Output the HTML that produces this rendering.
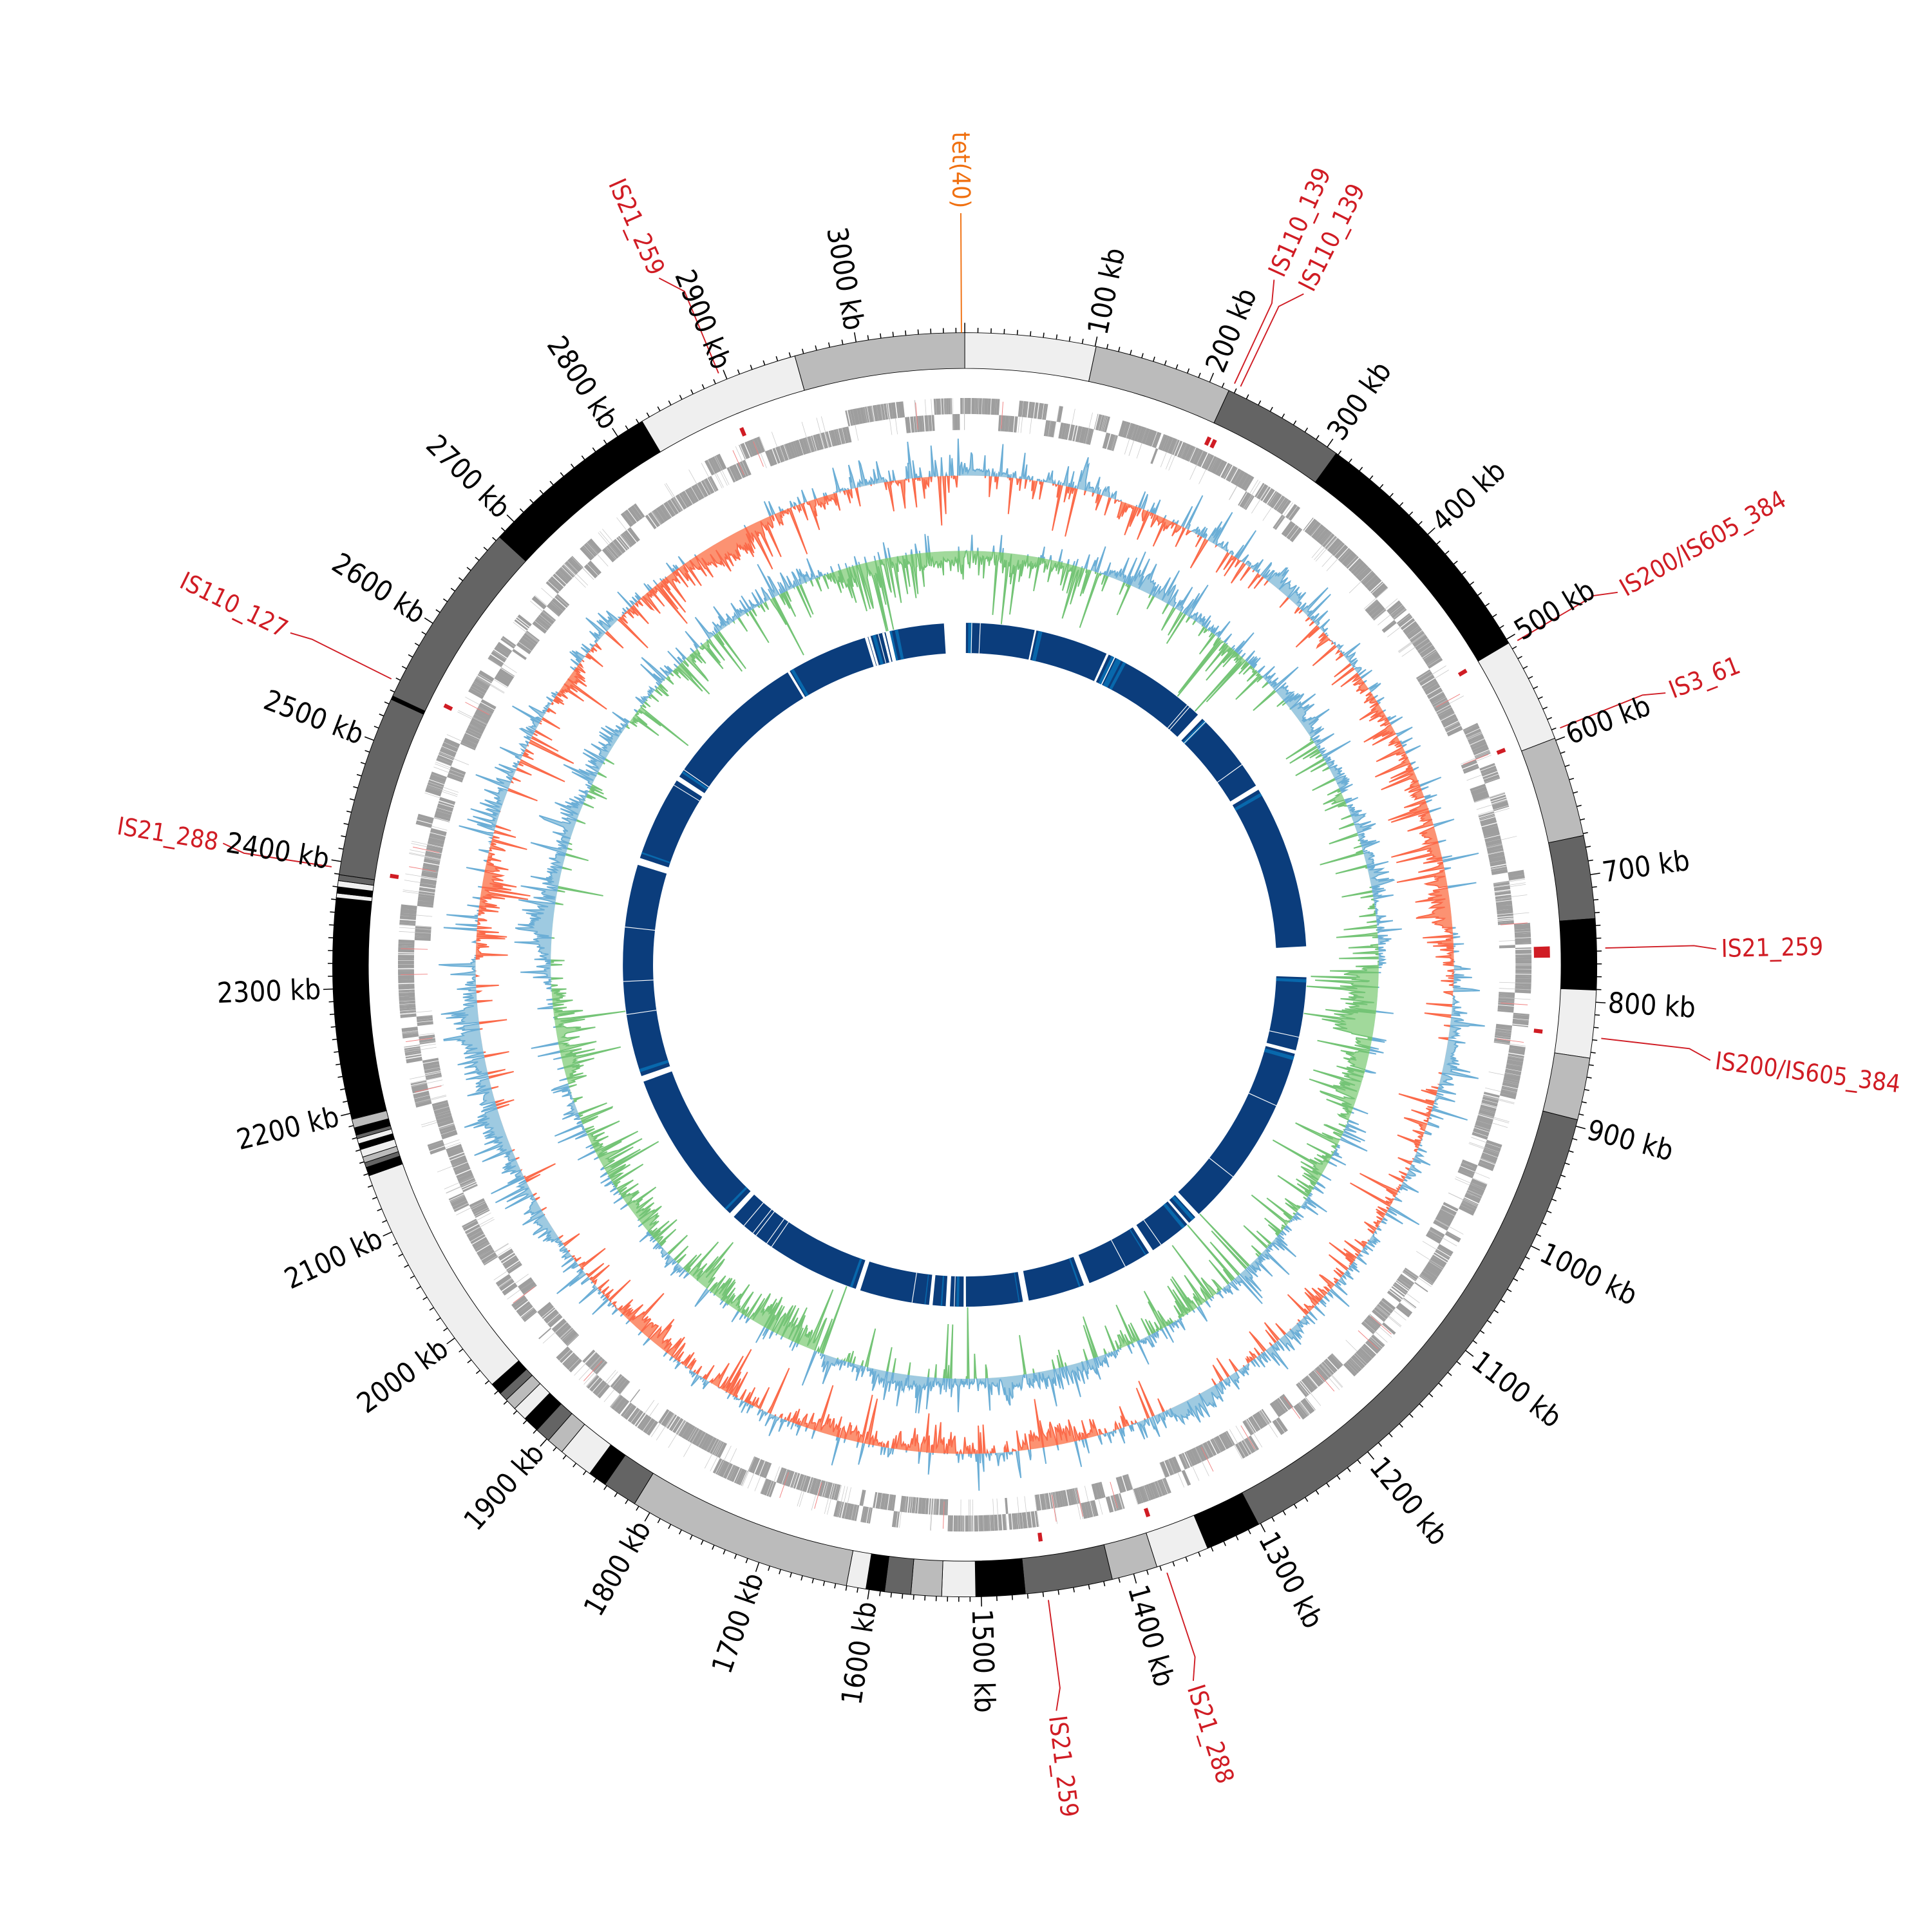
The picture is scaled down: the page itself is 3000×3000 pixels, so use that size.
<!DOCTYPE html>
<html><head><meta charset="utf-8">
<style>
html,body{margin:0;padding:0;background:#fff;}
svg{display:block;}
text{font-family:"DejaVu Sans Condensed","Liberation Sans Narrow","Liberation Sans",sans-serif;font-stretch:condensed;}
.tk{font-size:23px;fill:#000;}
.is{font-size:20px;fill:#d01c24;}
</style></head>
<body>
<svg id="s" xmlns="http://www.w3.org/2000/svg" width="3000" height="3000" viewBox="0 0 1568 1568">
<rect width="1568" height="1568" fill="#fff"/>
<g id="g"></g>
<g id="ticklabels">
<text class="tk">100 kb</text><text class="tk">200 kb</text><text class="tk">300 kb</text><text class="tk">400 kb</text><text class="tk">500 kb</text><text class="tk">600 kb</text><text class="tk">700 kb</text><text class="tk">800 kb</text><text class="tk">900 kb</text><text class="tk">1000 kb</text><text class="tk">1100 kb</text><text class="tk">1200 kb</text><text class="tk">1300 kb</text><text class="tk">1400 kb</text><text class="tk">1500 kb</text><text class="tk">1600 kb</text><text class="tk">1700 kb</text><text class="tk">1800 kb</text><text class="tk">1900 kb</text><text class="tk">2000 kb</text><text class="tk">2100 kb</text><text class="tk">2200 kb</text><text class="tk">2300 kb</text><text class="tk">2400 kb</text><text class="tk">2500 kb</text><text class="tk">2600 kb</text><text class="tk">2700 kb</text><text class="tk">2800 kb</text><text class="tk">2900 kb</text><text class="tk">3000 kb</text>
</g>
<g id="islabels">
<text class="is" style="fill:#f07010">tet(40)</text>
<text class="is">IS21_259</text>
<text class="is">IS110_139</text>
<text class="is">IS110_139</text>
<text class="is">IS200/IS605_384</text>
<text class="is">IS3_61</text>
<text class="is">IS21_259</text>
<text class="is">IS200/IS605_384</text>
<text class="is">IS21_288</text>
<text class="is">IS21_259</text>
<text class="is">IS21_288</text>
<text class="is">IS110_127</text>
</g>
</svg>
<script>
(function(){
var C=783,NS="http://www.w3.org/2000/svg",g=document.getElementById("g");
function P(r,a){var t=a*Math.PI/180;return [C+r*Math.sin(t),C-r*Math.cos(t)];}
function f(v){return v.toFixed(2);}
function el(n,at,parent){var e=document.createElementNS(NS,n);for(var k in at)e.setAttribute(k,at[k]);(parent||g).appendChild(e);return e;}
function sector(r0,r1,a0,a1){var la=(a1-a0)>180?1:0;var p1=P(r1,a0),p2=P(r1,a1),p3=P(r0,a1),p4=P(r0,a0);
return "M"+f(p1[0])+","+f(p1[1])+"A"+r1+","+r1+" 0 "+la+" 1 "+f(p2[0])+","+f(p2[1])+"L"+f(p3[0])+","+f(p3[1])+"A"+r0+","+r0+" 0 "+la+" 0 "+f(p4[0])+","+f(p4[1])+"Z";}
var seed=12345;function rnd(){seed|=0;seed=seed+0x6D2B79F5|0;var t=Math.imul(seed^seed>>>15,1|seed);t=t+Math.imul(t^t>>>7,61|t)^t;return((t^t>>>14)>>>0)/4294967296;}
function nrm(){return Math.sqrt(-2*Math.log(rnd()+1e-9))*Math.cos(2*Math.PI*rnd());}
var tab=[[0,0],[100,11.9],[200,22.8],[300,35],[400,47.1],[500,59],[600,69.2],[700,81.8],[800,93.4],[900,104.8],[1000,116.4],[1100,127.6],[1200,140.4],[1300,152.1],[1400,164.5],[1500,178.5],[1600,188.7],[1700,199],[1800,209.9],[1900,221.4],[2000,233.8],[2100,245],[2200,256.4],[2300,267.8],[2400,279.4],[2500,290.8],[2600,302.7],[2700,314.5],[2800,326.7],[2900,337.9],[3000,350.1],[3087,360]];
function k2a(k){for(var i=1;i<tab.length;i++){if(k<=tab[i][0]){var a=tab[i-1],b=tab[i];return a[1]+(b[1]-a[1])*(k-a[0])/(b[0]-a[0]);}}return 360;}
var L="#efefef",B="#bbbbbb",D="#646464",K="#000000";
var segs=[[0,12,L],[12,24.7,B],[24.7,36,D],[36,59.4,K],[59.4,69,L],[69,78.2,B],[78.2,85.8,D],[85.8,92.3,K],[92.3,98.5,L],[98.5,104.2,B],[104.2,152.3,D],[152.3,157.4,K],[157.4,162.3,L],[162.3,166.5,B],[166.5,174.5,D],[174.5,179,K],[179,182.1,L],[182.1,184.9,B],[184.9,187.3,D],[187.3,189,K],[189,190.8,L],[190.8,211.5,B],[211.5,214.7,D],[214.7,216.4,K],[216.4,219.6,L],[219.6,221.2,B],[221.2,222.6,D],[222.6,224.1,K],[224.1,225.4,L],[225.4,226.5,B],[226.5,227.3,D],[227.3,228.4,K],[228.4,250.5,L]];
var cols=[K,D,B,L,K,L,D,K,B,L,K,D,L];var a=250.5,ci=0;
while(a<255.9){var w=0.3+rnd()*0.5;segs.push([a,Math.min(a+w,255.9),cols[ci++%cols.length]]);a+=w;}
segs.push([255.9,276.1,K]);a=276.1;ci=3;
while(a<278.2){var w=0.25+rnd()*0.35;segs.push([a,Math.min(a+w,278.2),cols[ci++%cols.length]]);a+=w;}
segs=segs.concat([[278.2,312.6,D],[312.6,329.3,K],[329.3,344.4,L],[344.4,360,B]]);
segs.forEach(function(s){el("path",{d:sector(484,513,s[0],s[1]),fill:s[2],stroke:"#000","stroke-width":0.5});});
el("path",{d:sector(484,513,294.8,295.2),fill:"#000"});
var td="";for(var k=0;k<=3080;k+=10){var an=k2a(k),mj=(k%100==0),p1=P(513,an),p2=P(mj?521:517,an);td+="M"+f(p1[0])+","+f(p1[1])+"L"+f(p2[0])+","+f(p2[1]);}
el("path",{d:td,stroke:"#000","stroke-width":0.8,fill:"none"});
var tks=document.querySelectorAll("#ticklabels text");
for(var i=0;i<tks.length;i++){var an=k2a((i+1)*100),p=P(523,an),t=tks[i];
t.setAttribute("x",f(p[0]));t.setAttribute("y",f(p[1]));t.setAttribute("dominant-baseline","central");
if(an<180){t.setAttribute("text-anchor","start");t.setAttribute("transform","rotate("+f(an-90)+" "+f(p[0])+" "+f(p[1])+")");}
else{t.setAttribute("text-anchor","end");t.setAttribute("transform","rotate("+f(an+90)+" "+f(p[0])+" "+f(p[1])+")");}}
var gd1="",gd2="";a=0;var lane=0,run=0;
while(a<360){if(run<=0){lane=rnd()<0.5?0:1;run=1+Math.floor(rnd()*7);}run--;
var w=0.06+rnd()*0.4,gap=rnd()<0.6?0.005:rnd()*0.1;var a1=Math.min(a+w,360);
var d=lane?sector(447,460,a,a1):sector(434,447,a,a1);
if(lane)gd1+=d;else gd2+=d;a=a1+gap;}
el("path",{d:gd1,fill:"#9e9e9e"});el("path",{d:gd2,fill:"#9e9e9e"});
var ld="";for(var i=0;i<500;i++){var an=rnd()*360;var p1=P(434+(rnd()<0.5?0:13),an),p2=P(447+(rnd()<0.5?0:13),an);ld+="M"+f(p1[0])+","+f(p1[1])+"L"+f(p2[0])+","+f(p2[1]);}
el("path",{d:ld,stroke:"#c8c8c8","stroke-width":0.4,fill:"none"});
var rd="";for(var i=0;i<30;i++){var an=rnd()*360;var p1=P(436,an),p2=P(458,an);rd+="M"+f(p1[0])+","+f(p1[1])+"L"+f(p2[0])+","+f(p2[1]);}
el("path",{d:rd,stroke:"#f08080","stroke-width":0.5,fill:"none"});
function makeTrack(base,up,dn,bias,posFill,posStroke,negFill,negStroke,id){
var n=3000,vals=[],s=0,ph=[rnd()*6,rnd()*6,rnd()*6,rnd()*6];
for(var i=0;i<n;i++){var an=i*360/n,t=an*Math.PI/180;
s=s*0.97+nrm()*0.1;
var sm=0.35*Math.sin(3*t+ph[0])+0.3*Math.sin(7*t+ph[1])+0.25*Math.sin(13*t+ph[2])+0.2*Math.sin(29*t+ph[3])+s*0.4+bias;
var e=nrm();
var v=sm*0.38+e*Math.abs(e)*0.12+(rnd()<0.08?nrm()*0.4:0);
vals.push(v>0?Math.min(v*up,up):Math.max(v*dn,-dn));}
var d="";for(var i=0;i<=n;i++){var an=(i%n)*360/n,p=P(base+vals[i%n],an);d+=(i?"L":"M")+f(p[0])+","+f(p[1]);}
var c1=P(base,0),c2=P(base,180);
var circ="M"+f(c1[0])+","+f(c1[1])+"A"+base+","+base+" 0 1 1 "+f(c2[0])+","+f(c2[1])+"A"+base+","+base+" 0 1 1 "+f(c1[0])+","+f(c1[1])+"Z";
var defs=el("defs",{});
var cpO=el("clipPath",{id:id+"o"},defs);el("path",{d:"M-1000,-1000H3000V3000H-1000Z"+circ,"clip-rule":"evenodd"},cpO);
var cpI=el("clipPath",{id:id+"i"},defs);el("circle",{cx:C,cy:C,r:base},cpI);
el("path",{d:d+"Z"+circ,"fill-rule":"evenodd",fill:posFill,"clip-path":"url(#"+id+"o)"});
el("path",{d:d+"Z"+circ,"fill-rule":"evenodd",fill:negFill,"clip-path":"url(#"+id+"i)"});
el("path",{d:d,fill:"none",stroke:posStroke,"stroke-width":1,"clip-path":"url(#"+id+"o)"});
el("path",{d:d,fill:"none",stroke:negStroke,"stroke-width":1,"clip-path":"url(#"+id+"i)"});}
makeTrack(397,30,40,0.0,"#9ecae1","#6baed6","#fc9272","#fb6a4a","gc");
makeTrack(336,30,58,0.1,"#9ecae1","#6baed6","#a1d99b","#74c476","sk");
var gaps=[[-3.5,0.2],[-13.6,-12.5],[-16.5,-16],[11.8,12.1],[24.5,24.9],[25.8,26.1],[26.8,27.1],[43,44],[58.4,59.2],[86.9,92.1],[104.5,105.1],[136.8,137.6],[139,139.4],[146.6,147.4],[158.6,159.6],[169.2,170.2],[179.8,180.2],[182.5,183.2],[185.4,186],[197.8,198.6],[222.5,223.4],[250,251],[287,288.2],[302.6,303.4],[328.8,329.2],[343,343.6],[346,346.6]];
gaps.sort(function(x,y){return x[0]-y[0];});
var st=gaps[gaps.length-1][1]-360;var bd="";
for(var i=0;i<gaps.length;i++){bd+=sector(253,277.5,st,gaps[i][0]);st=gaps[i][1];}
el("path",{d:bd,fill:"#0b3d7c"});
var lb="";for(var i=0;i<40;i++){var an=gaps[i%gaps.length][1]+0.2+rnd()*0.6;lb+=sector(253,277.5,an,an+0.15+rnd()*0.4);}
el("path",{d:lb,fill:"#0868ac"});
var wl="";for(var i=0;i<25;i++){var an=rnd()*360;var p1=P(253,an),p2=P(277.5,an);wl+="M"+f(p1[0])+","+f(p1[1])+"L"+f(p2[0])+","+f(p2[1]);}
el("path",{d:wl,stroke:"#fff","stroke-width":0.6,fill:"none"});
var isd=[[359.7,359.7,"#f07010",513],[337.4,336,"#d01c24",520],[24.9,24.3,"#d01c24",520],[25.5,26.8,"#d01c24",520],[59.6,60.3,"#d01c24",520],[68.3,68.8,"#d01c24",520],[88.5,88.8,"#d01c24",520],[96.6,97.3,"#d01c24",520],[161.6,162.3,"#d01c24",520],[172.5,173,"#d01c24",520],[278.8,279.3,"#d01c24",520],[296.5,296.2,"#d01c24",520]];
var ils=document.querySelectorAll("#islabels text");
isd.forEach(function(q,i){var p1=P(q[3],q[0]),p2=P(592,q[0]),p3=P(610,q[1]);
el("path",{d:"M"+f(p1[0])+","+f(p1[1])+"L"+f(p2[0])+","+f(p2[1])+"L"+f(p3[0])+","+f(p3[1]),stroke:q[2],"stroke-width":1,fill:"none"});
if(i>0){el("path",{d:sector(465,472,q[0]-0.2,q[0]+0.2),fill:"#d01c24"});}
var t=ils[i],p=P(614,q[1]);t.setAttribute("x",f(p[0]));t.setAttribute("y",f(p[1]));t.setAttribute("dominant-baseline","central");
if(q[1]<180){t.setAttribute("text-anchor","start");t.setAttribute("transform","rotate("+f(q[1]-90)+" "+f(p[0])+" "+f(p[1])+")");}
else{t.setAttribute("text-anchor","end");t.setAttribute("transform","rotate("+f(q[1]+90)+" "+f(p[0])+" "+f(p[1])+")");}});
el("path",{d:sector(462,475,88.2,89.3),fill:"#d01c24"});
})();
</script>
</body></html>
